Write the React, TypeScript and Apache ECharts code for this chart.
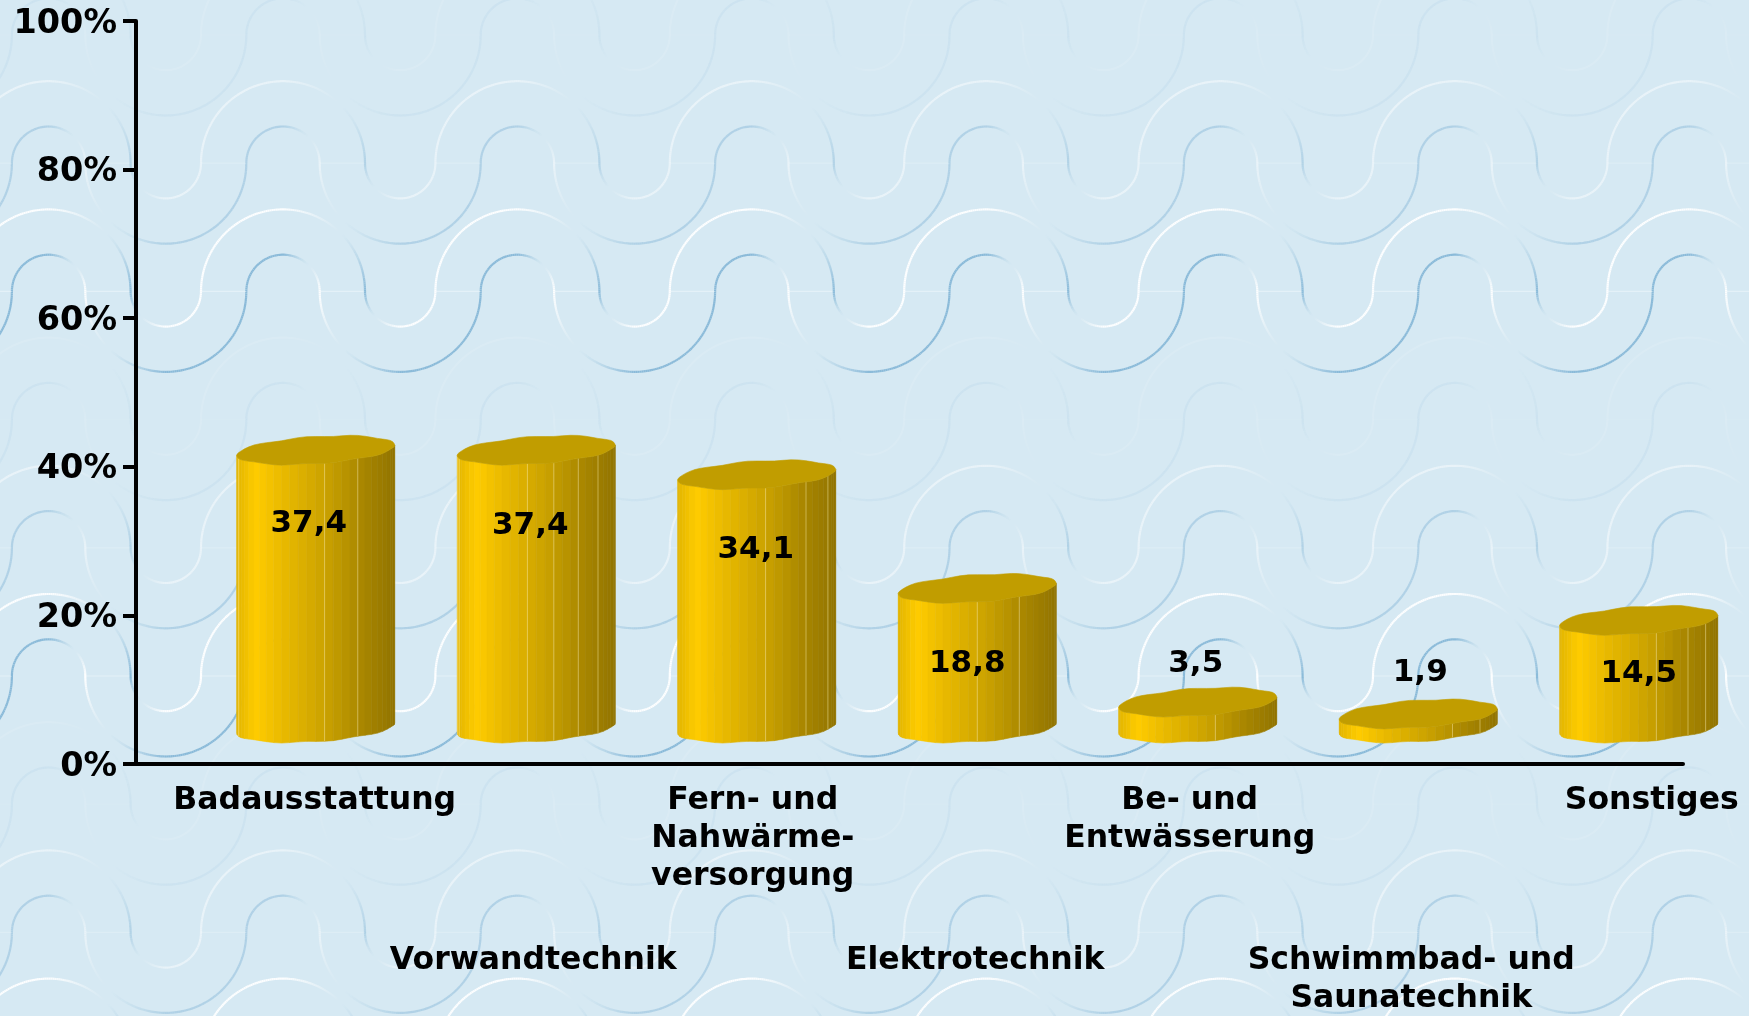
import React, { useEffect, useRef } from "react";
import * as echarts from "echarts";

const categories = ["Badausstattung", "Vorwandtechnik", "Fern- und\nNahwärme-\nversorgung", "Elektrotechnik", "Be- und\nEntwässerung", "Schwimmbad- und\nSaunatechnik", "Sonstiges"];
const values = [37.4, 37.4, 34.1, 18.8, 3.5, 1.9, 14.5];
const yTicks = [0, 20, 40, 60, 80, 100];

// presentation constants, separate from the data
const labelShiftX = [-1, -3, -4, -2, -8, -7, 13];
const valueLabelOffset = [[-7, 71], [-6, 73], [-1, 72], [-10, 73], [-2, -41], [2, -44], [0, 51]];
const WOBBLE = [0, 0.3, 0.6, 0.5, 0.1, -0.3, -0.6, -0.4, 0, 0.5, 0.7, 0.2, -0.4, -0.6, -0.1, 0.4, 0.6, 0.1, -0.5, -0.6, -0.2, 0.3, 0.6, 0.4, -0.1, -0.5, -0.4, 0.1];
const SEAMS: number[][] = [[2, 15, 19], [1, 2, 13, 16, 19, 22], [15, 20, 24], [14, 19], [16], [18, 22], [16, 20, 23]];
const FONT = '"DejaVu Sans", Verdana, sans-serif';
const W = 1749, H = 1016;
const GRID_TOP = 21, GRID_H = 743, AXIS_X = 136, AXIS_W = 1547, BAR_SHIFT = 69.5;
const BASE_LIFT = 36, RX = 79, RY = 13.5, SHEAR = -5, STRIPS = 28;

function bodyColor(f: number) {
  const stops: [number, number[]][] = [[0, [226, 181, 0]], [0.06, [240, 192, 0]], [0.12, [255, 204, 0]], [0.3, [232, 185, 0]], [0.55, [204, 163, 0]], [0.8, [168, 134, 0]], [1, [146, 116, 0]]];
  for (let i = 1; i < stops.length; i++) {
    if (f <= stops[i][0]) {
      const [a, ca] = stops[i - 1];
      const [b, cb] = stops[i];
      const k = (f - a) / (b - a);
      return `rgb(${ca.map((c, j) => Math.round(c + (cb[j] - c) * k)).join(",")})`;
    }
  }
  return "rgb(146,116,0)";
}

function makeBackground() {
  const c = document.createElement("canvas");
  c.width = W;
  c.height = H;
  const x = c.getContext("2d")!;
  const rowAlpha = [0.12, 0.5, 1];
  const P = 234.4, BIG = 82, SMALL = 35.2;
  x.lineCap = "butt";
  for (let r = 0; r < 9; r++) {
    const my = 35 + r * 128.2;
    const op = rowAlpha[r % 3];
    for (let k = -2; k < 9; k++) {
      const cx = 48.6 + k * P;
      x.strokeStyle = `rgba(240,248,252,${0.55 * op})`;
      x.lineWidth = 1.2;
      x.beginPath();
      x.moveTo(cx - BIG, my);
      x.lineTo(cx - 37, my);
      x.moveTo(cx + 37, my);
      x.lineTo(cx + BIG, my);
      x.stroke();
      // A: big crest + small trough, B: small crest + big trough
      const arcs: [number, number, number, number][] = [
        [cx, BIG, -1, 1],
        [cx + P / 2, SMALL, 1, 1],
        [cx, SMALL + 1.5, -1, -1],
        [cx + P / 2, BIG - 1.5, 1, -1],
      ];
      for (const [ax, rad, side, sign] of arcs) {
        const n = Math.ceil(rad * 1.6);
        for (let i = 0; i < n; i++) {
          const a0 = Math.PI * (i / n), a1 = Math.PI * ((i + 1) / n);
          const x0 = ax - rad * Math.cos(a0), y0 = my + side * rad * Math.sin(a0);
          const x1 = ax - rad * Math.cos(a1), y1 = my + side * rad * Math.sin(a1);
          const dx = x1 - x0, dy = y1 - y0, len = Math.hypot(dx, dy);
          const nx = dy / len, ny = -dx / len;
          const w = (-nx - ny) * sign;
          const aw = Math.min(1, Math.abs(w));
          if (aw < 0.05) continue;
          x.strokeStyle = w > 0
            ? `rgba(255,255,255,${0.95 * Math.pow(aw, 1.3) * op})`
            : `rgba(125,178,212,${0.85 * Math.pow(aw, 1.6) * op})`;
          x.lineWidth = 2.2;
          x.beginPath();
          x.moveTo(x0, y0);
          x.lineTo(x1, y1);
          x.stroke();
        }
      }
    }
  }
  const out = document.createElement("canvas");
  out.width = W;
  out.height = H;
  const o = out.getContext("2d")!;
  o.fillStyle = "#d6e9f3";
  o.fillRect(0, 0, W, H);
  (o as any).filter = "blur(0.7px)";
  o.drawImage(c, 0, 0);
  return out.toDataURL("image/png");
}

function renderCylinder(params: any, api: any) {
  const i = params.dataIndex;
  const v = api.value(1);
  const [cx, zeroY] = api.coord([i, 0]);
  const topCoord = api.coord([i, v]);
  const baseY = zeroY - BASE_LIFT;
  const topY = topCoord[1] - BASE_LIFT;
  const pt = (t: number, cy: number, k: number): number[] => [
    cx + RX * Math.cos(t),
    cy + RY * Math.sin(t) + SHEAR * Math.cos(t) + WOBBLE[k % WOBBLE.length],
  ];
  const children: any[] = [];
  for (let s = 0; s < STRIPS; s++) {
    const t0 = Math.PI * (1 - s / STRIPS), t1 = Math.PI * (1 - (s + 1) / STRIPS);
    const a = pt(t0, topY, s), b = pt(t1, topY, s + 1), c = pt(t1, baseY, s + 1), d = pt(t0, baseY, s);
    const f = ((a[0] + b[0]) / 2 - (cx - RX)) / (2 * RX);
    const col = bodyColor(f);
    children.push({ type: "polygon", shape: { points: [a, b, c, d] }, style: { fill: col, stroke: col, lineWidth: 0.6 } });
  }
  for (const s of SEAMS[i]) {
    const t = Math.PI * (1 - s / STRIPS);
    const a = pt(t, topY, s), c = pt(t, baseY, s);
    children.push({ type: "line", shape: { x1: a[0], y1: a[1], x2: c[0], y2: c[1] }, style: { stroke: "rgba(255,240,170,0.45)", lineWidth: 1 } });
  }
  const top: number[][] = [];
  const N = STRIPS * 2;
  for (let k = 0; k < N; k++) {
    const t = (2 * Math.PI * k) / N + Math.PI;
    // the front half of the cap shares its wobble with the tops of the strips
    top.push(pt(t, topY, k <= STRIPS ? k : N - k));
  }
  children.push({ type: "polygon", shape: { points: top }, style: { fill: "#c19d00", stroke: "#c19d00", lineWidth: 0.6 } });
  const [ox, oy] = valueLabelOffset[i];
  children.push({
    type: "text",
    style: {
      text: String(v).replace(".", ","),
      x: cx + ox,
      y: topY + oy,
      fill: "#000",
      font: `bold 31px ${FONT}`,
      align: "center",
      verticalAlign: "middle",
    },
  });
  return { type: "group", children };
}

export default function App() {
  const ref = useRef<HTMLDivElement>(null);
  useEffect(() => {
    const chart = echarts.init(ref.current!, undefined, { renderer: "svg" });
    const gridBase = { top: GRID_TOP, height: GRID_H, width: AXIS_W };
    const rowAxis = (gridIndex: number, margin: number, pick: (i: number) => boolean) => ({
      type: "category",
      gridIndex,
      data: categories.map((c, i) => ({
        value: c,
        textStyle: labelShiftX[i] < 0 ? { padding: [0, -2 * labelShiftX[i], 0, 0] } : { padding: [0, 0, 0, 2 * labelShiftX[i]] },
      })),
      axisLine: { show: false },
      axisTick: { show: false },
      axisLabel: {
        interval: 0,
        hideOverlap: false,
        margin,
        color: "#000",
        fontFamily: FONT,
        fontWeight: "bold",
        fontSize: 31.5,
        lineHeight: 38,
        verticalAlign: "top",
        formatter: (v: string, i: number) => (pick(i) ? v : ""),
      },
    });
    const hiddenY = (gridIndex: number) => ({ type: "value", gridIndex, min: 0, max: 100, show: false });
    chart.setOption({
      animation: false,
      graphic: [{ type: "image", z: -10, silent: true, x: 0, y: 0, style: { image: makeBackground(), x: 0, y: 0, width: W, height: H } }],
      grid: [
        { ...gridBase, left: AXIS_X },
        { ...gridBase, left: AXIS_X + BAR_SHIFT },
        { ...gridBase, left: AXIS_X + BAR_SHIFT },
      ],
      xAxis: [
        {
          type: "category",
          gridIndex: 0,
          data: categories,
          axisTick: { show: false },
          axisLabel: { show: false },
          axisLine: { lineStyle: { color: "#000", width: 4, cap: "round" } },
        },
        rowAxis(1, 15, (i) => i % 2 === 0),
        rowAxis(2, 175, (i) => i % 2 === 1),
      ],
      yAxis: [
        {
          type: "value",
          gridIndex: 0,
          min: yTicks[0],
          max: yTicks[yTicks.length - 1],
          interval: yTicks[1] - yTicks[0],
          splitLine: { show: false },
          axisLine: { show: true, lineStyle: { color: "#000", width: 4 } },
          axisTick: { show: true, length: 13, lineStyle: { color: "#000", width: 4 } },
          axisLabel: { margin: 19, color: "#000", fontFamily: FONT, fontWeight: "bold", fontSize: 33.5, padding: [3, 0, 0, 0], formatter: "{value}%" },
        },
        hiddenY(1),
        hiddenY(2),
      ],
      series: [
        {
          type: "custom",
          xAxisIndex: 1,
          yAxisIndex: 1,
          clip: false,
          data: values.map((v, i) => [i, v]),
          encode: { x: 0, y: 1 },
          renderItem: renderCylinder,
        },
      ],
    });
    return () => chart.dispose();
  }, []);
  return <div ref={ref} style={{ position: "fixed", left: 0, top: 0, width: W, height: H }} />;
}
